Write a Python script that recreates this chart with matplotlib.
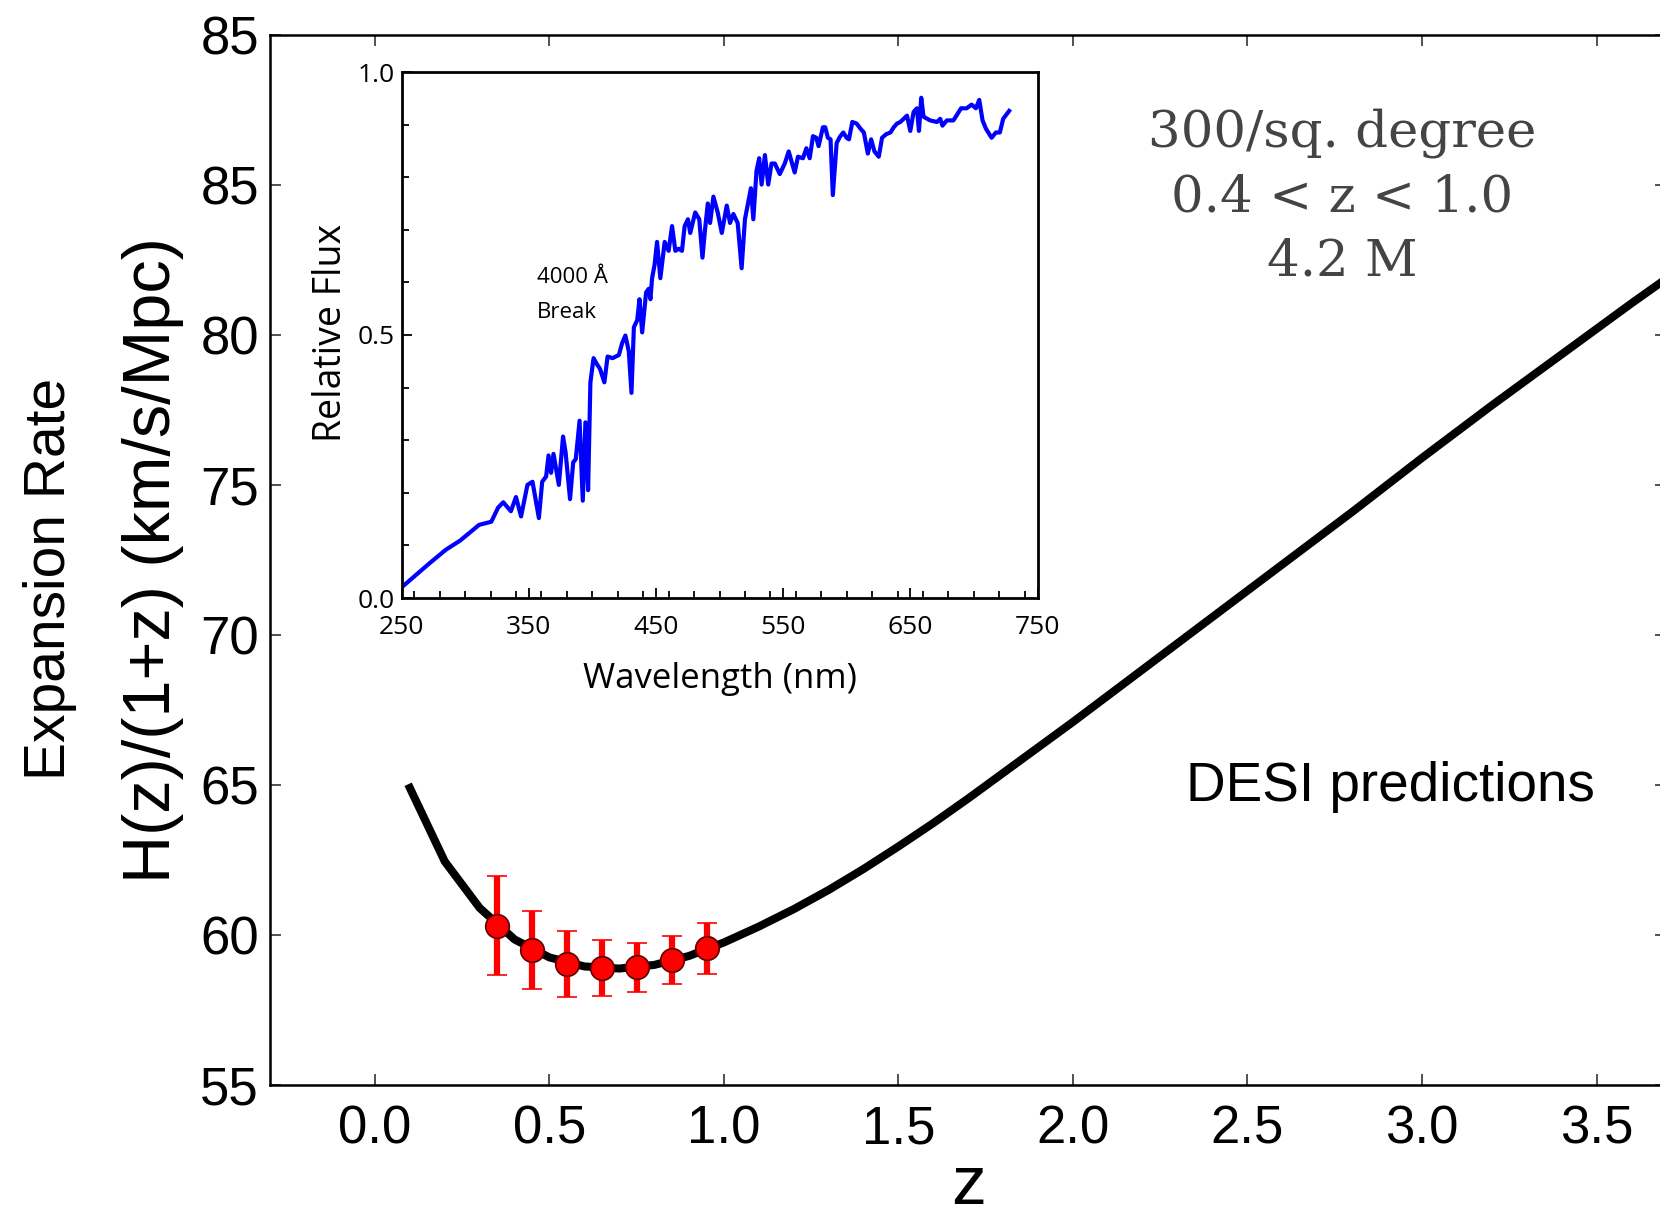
import matplotlib
matplotlib.use('Agg')
import matplotlib.pyplot as plt
from matplotlib.ticker import MultipleLocator

plt.rcParams['font.family'] = ['Liberation Sans', 'DejaVu Sans']

# H(z)/(1+z) model curve
z_curve = [0.1, 0.2, 0.3, 0.4, 0.5, 0.6, 0.7, 0.8, 0.9, 1.0, 1.1, 1.2, 1.3,
           1.4, 1.5, 1.6, 1.7, 1.8, 1.9, 2.0, 2.2, 2.4, 2.6, 2.8, 3.0, 3.2,
           3.4, 3.6, 3.8]
h_curve = [64.9, 62.45, 60.9, 59.85, 59.25, 58.95, 58.88, 59.0, 59.3, 59.75,
           60.28, 60.86, 61.5, 62.2, 62.95, 63.73, 64.55, 65.4, 66.25, 67.1,
           68.85, 70.6, 72.35, 74.1, 75.9, 77.65, 79.35, 81.05, 82.7]

# DESI predicted points
z_desi = [0.35, 0.45, 0.55, 0.65, 0.75, 0.85, 0.95]
h_desi = [60.3, 59.5, 59.03, 58.89, 58.92, 59.17, 59.56]
h_err = [1.65, 1.3, 1.1, 0.93, 0.81, 0.8, 0.85]

x_ticks = [0.0, 0.5, 1.0, 1.5, 2.0, 2.5, 3.0, 3.5]
x_tick_labels = ['0.0', '0.5', '1.0', '1.5', '2.0', '2.5', '3.0', '3.5']
y_ticks = [55, 60, 65, 70, 75, 80, 85, 90]
y_tick_labels = ['55', '60', '65', '70', '75', '80', '85', '85']

# galaxy spectrum in the inset
wavelength = [250, 272, 285, 296, 311, 320.6, 326, 330, 336, 340,
              344, 349, 353, 358, 360.6, 363.7, 365.6, 367.6, 369.5, 373.7,
              377, 379, 382.5, 385, 387, 390, 392.5, 394.6, 396.7, 398.5,
              401, 404, 406, 409.5, 412, 416,
              420.9, 423.5, 426, 428.7, 430.8, 432.7, 435.3, 437.1, 439.2, 442.3,
              444.4, 445.7, 447, 449, 450.9, 453.5, 456.9, 460, 462.7, 465.3,
              467.9, 470.5, 472.6, 475.2, 477, 480.9, 484.1, 486.6, 488.6, 490.8,
              492.6, 495.2, 498.6, 501.8, 505.7, 508.3, 510.9, 514.3, 517.4, 520,
              522.6, 524.7, 526.6, 529.1, 531.2, 533.1, 535.7, 538.3, 540.9, 543.5,
              547.4, 551.3, 554.4, 559.1, 561.7, 565.6, 568.3, 570.9, 573.5, 576.1,
              577.9, 581.3, 583.1, 585.2, 587.3, 589.1,
              592.1, 594.7, 597.3, 599.9, 601.8, 604.4, 607.8, 610.9, 613.5, 616.6,
              619.2, 621.8, 625.2, 627.8, 631.2, 634.4, 637, 639.6, 642.2, 644.8,
              647.4, 650, 652.6, 655.2, 656.8, 658.6, 660.4, 665.6, 670.9, 673.5,
              675.3, 678.7, 683.9, 689.9, 694.3, 698.2, 701.6, 704.2, 706.8, 709.5,
              713.9, 717.3, 720.4, 723, 727.7]
flux = [0.020, 0.066, 0.092, 0.109, 0.139, 0.145, 0.172, 0.182, 0.165, 0.192,
        0.155, 0.215, 0.221, 0.152, 0.221, 0.231, 0.271, 0.238, 0.274, 0.215,
        0.307, 0.277, 0.188, 0.258, 0.264, 0.337, 0.185, 0.334, 0.205, 0.41,
        0.456, 0.443, 0.436, 0.41, 0.459, 0.456,
        0.462, 0.485, 0.499, 0.469, 0.39, 0.515, 0.528, 0.568, 0.505, 0.581,
        0.588, 0.568, 0.608, 0.634, 0.677, 0.608, 0.677, 0.66, 0.707, 0.66,
        0.664, 0.66, 0.707, 0.72, 0.694, 0.733, 0.72, 0.647, 0.7, 0.75,
        0.713, 0.763, 0.733, 0.694, 0.746, 0.713, 0.73, 0.713, 0.627, 0.72,
        0.753, 0.779, 0.72, 0.812, 0.836, 0.786, 0.842, 0.786, 0.826, 0.826,
        0.806, 0.826, 0.849, 0.809, 0.839, 0.836, 0.855, 0.836, 0.878, 0.875,
        0.859, 0.895, 0.895, 0.875, 0.872, 0.766,
        0.865, 0.877, 0.885, 0.875, 0.872, 0.905, 0.902, 0.892, 0.885, 0.845,
        0.872, 0.849, 0.839, 0.875, 0.882, 0.885, 0.895, 0.902, 0.905, 0.911,
        0.917, 0.888, 0.924, 0.931, 0.888, 0.951, 0.915, 0.908, 0.905, 0.911,
        0.898, 0.908, 0.908, 0.931, 0.931, 0.938, 0.931, 0.947, 0.908, 0.892,
        0.875, 0.885, 0.885, 0.911, 0.926]
wl_ticks = [250, 350, 450, 550, 650, 750]

W, H = 1660, 1220
fig = plt.figure(figsize=(W / 100, H / 100), dpi=100)

# main panel
ax = fig.add_axes([0.1628, 0.1107, 0.841, 0.8607])
ax.plot(z_curve, h_curve, color='black', lw=5.8, zorder=2,
        solid_joinstyle='round')
ax.errorbar(z_desi, h_desi, yerr=h_err, fmt='o', color='red', ecolor='red',
            elinewidth=4.5, capsize=7.5, capthick=2, markersize=17,
            markerfacecolor='red', markeredgecolor='#5a0000',
            markeredgewidth=1.2, zorder=3)
ax.set_xlim(-0.3, 3.7)
ax.set_ylim(55, 90)
ax.set_xticks(x_ticks)
ax.set_xticklabels(x_tick_labels)
ax.set_yticks(y_ticks)
ax.set_yticklabels(y_tick_labels)
ax.tick_params(direction='in', length=8, width=1.2, top=True, right=True,
               labelsize=38, colors='#333333', labelcolor='black')
ax.tick_params(axis='y', pad=8)
ax.tick_params(axis='x', pad=14)
for sp in ax.spines.values():
    sp.set_linewidth(1.8)

fig.text(969 / W, 1 - 1204 / H, 'z', fontsize=50, ha='center', va='baseline')
fig.text(153 / W, 1 - 560 / H, 'H(z)/(1+z) (km/s/Mpc)', fontsize=48,
         rotation=90, ha='center', va='center')
fig.text(50 / W, 1 - 579 / H, 'Expansion Rate', fontsize=41,
         rotation=90, ha='center', va='center')

# survey numbers
info_lines = ['300/sq. degree', '0.4 < z < 1.0', '4.2 M']
info_base = [147, 211, 275]
for line, yb in zip(info_lines, info_base):
    fig.text(1342 / W, 1 - yb / H, line, fontsize=37, color='#444444',
             family='DejaVu Serif', ha='center', va='baseline')

fig.text(1186 / W, 1 - 801 / H, 'DESI predictions', fontsize=39.5,
         ha='left', va='baseline')

# inset spectrum
ax_in = fig.add_axes([401.5 / W, 1 - 598 / H, 636 / W, 526 / H])
ax_in.plot(wavelength, flux, color='#0000ff', lw=3)
ax_in.set_xlim(250, 750)
ax_in.set_ylim(0, 1)
ax_in.set_xticks(wl_ticks)
ax_in.xaxis.set_minor_locator(MultipleLocator(20))
ax_in.yaxis.set_major_locator(MultipleLocator(0.5))
ax_in.yaxis.set_minor_locator(MultipleLocator(0.1))
ax_in.tick_params(which='both', direction='in', width=1.3)
ax_in.tick_params(which='major', length=7)
ax_in.tick_params(which='minor', length=5)
ax_in.tick_params(axis='x', labelsize=19, pad=12)
ax_in.tick_params(axis='y', labelsize=19, pad=5)
for lab in ax_in.get_xticklabels() + ax_in.get_yticklabels():
    lab.set_family('Open Sans')
for sp in ax_in.spines.values():
    sp.set_linewidth(2)

fig.text(720 / W, 1 - 688 / H, 'Wavelength (nm)', fontsize=25,
         family='Open Sans', ha='center', va='baseline')
fig.text(331 / W, 1 - 333 / H, 'Relative Flux', fontsize=27,
         family='Open Sans', rotation=90, ha='center', va='center')
ax_in.text(356.5, 0.598, '4000 Å', fontsize=16, family='Open Sans',
           va='baseline')
ax_in.text(356.5, 0.532, 'Break', fontsize=16, family='Open Sans',
           va='baseline')

fig.savefig('out.png', dpi=100)
